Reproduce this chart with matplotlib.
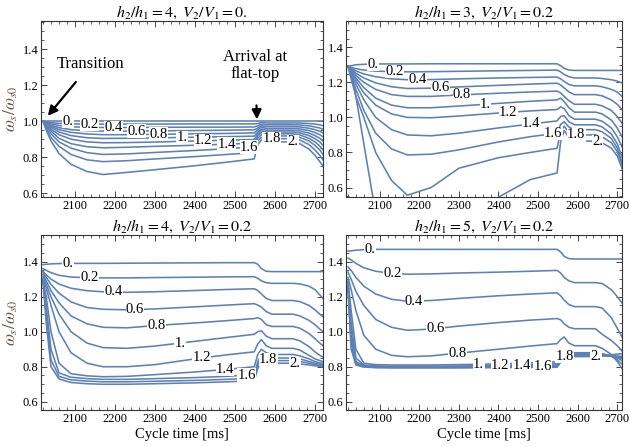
import numpy as np
import matplotlib.pyplot as plt
from matplotlib.ticker import MultipleLocator

plt.rcParams['font.family'] = ['Liberation Serif', 'DejaVu Serif']
plt.rcParams['mathtext.fontset'] = 'stix'

# common time grid [ms]
t = [2020, 2028, 2040, 2060, 2090, 2130, 2170, 2230, 2300, 2400, 2480,
     2548, 2557, 2566, 2578, 2592, 2645, 2662, 2685, 2700, 2712, 2720]

levels = ['0.', '0.2', '0.4', '0.6', '0.8', '1.', '1.2', '1.4', '1.6', '1.8', '2.']

# h2/h1 = 4, V2/V1 = 0.
tl_curves = [
    [1.0, 1.0, 1.0, 1.0, 1.0, 1.0, 1.0, 1.0, 1.0, 1.0, 1.0, 1.0, 1.0, 1.0, 1.0, 1.0, 1.0, 1.0, 1.0, 1.0, 1.0, 1.0],
    [1.0, 0.996, 0.992, 0.988, 0.985, 0.984, 0.984, 0.984, 0.984, 0.985, 0.985, 0.985, 0.987, 0.993, 0.99, 0.99, 0.99, 0.99, 0.987, 0.984, 0.98, 0.975],
    [1.0, 0.993, 0.985, 0.976, 0.969, 0.966, 0.965, 0.965, 0.966, 0.967, 0.967, 0.968, 0.974, 0.984, 0.98, 0.98, 0.98, 0.979, 0.974, 0.968, 0.962, 0.955],
    [1.0, 0.99, 0.978, 0.964, 0.953, 0.947, 0.945, 0.945, 0.946, 0.948, 0.95, 0.952, 0.962, 0.975, 0.97, 0.97, 0.97, 0.968, 0.961, 0.953, 0.944, 0.935],
    [1.0, 0.988, 0.972, 0.953, 0.938, 0.929, 0.925, 0.925, 0.927, 0.93, 0.932, 0.935, 0.952, 0.966, 0.96, 0.96, 0.96, 0.957, 0.948, 0.937, 0.925, 0.913],
    [1.0, 0.985, 0.965, 0.94, 0.92, 0.908, 0.904, 0.905, 0.907, 0.911, 0.914, 0.917, 0.94, 0.956, 0.95, 0.95, 0.95, 0.946, 0.934, 0.92, 0.905, 0.89],
    [1.0, 0.98, 0.955, 0.925, 0.9, 0.885, 0.88, 0.881, 0.884, 0.89, 0.894, 0.898, 0.93, 0.947, 0.94, 0.94, 0.94, 0.935, 0.92, 0.903, 0.885, 0.865],
    [1.0, 0.975, 0.945, 0.905, 0.875, 0.858, 0.852, 0.855, 0.86, 0.866, 0.872, 0.878, 0.92, 0.937, 0.93, 0.93, 0.93, 0.924, 0.905, 0.885, 0.862, 0.84],
    [1.0, 0.97, 0.93, 0.885, 0.85, 0.825, 0.815, 0.818, 0.826, 0.837, 0.847, 0.857, 0.905, 0.925, 0.918, 0.918, 0.918, 0.91, 0.89, 0.865, 0.84, 0.815],
    [1.0, 0.96, 0.91, 0.86, 0.815, 0.785, 0.775, 0.78, 0.79, 0.803, 0.815, 0.825, 0.89, 0.91, 0.903, 0.903, 0.903, 0.895, 0.87, 0.84, 0.81, 0.785],
    [1.0, 0.95, 0.89, 0.82, 0.76, 0.72, 0.703, 0.715, 0.73, 0.752, 0.772, 0.79, 0.87, 0.895, 0.885, 0.885, 0.885, 0.875, 0.845, 0.81, 0.775, 0.75],
]
tl_label_t = [2082, 2137, 2196, 2254, 2308, 2367, 2420, 2479, 2535, 2592, 2645]

# h2/h1 = 3, V2/V1 = 0.2
tr_curves = [
    [1.29, 1.295, 1.3, 1.303, 1.305, 1.305, 1.305, 1.306, 1.306, 1.306, 1.306, 1.306, 1.295, 1.28, 1.27, 1.268, 1.268, 1.268, 1.268, 1.268, 1.268, 1.268],
    [1.29, 1.285, 1.278, 1.27, 1.264, 1.261, 1.26, 1.261, 1.263, 1.266, 1.268, 1.27, 1.26, 1.245, 1.232, 1.225, 1.225, 1.222, 1.215, 1.207, 1.197, 1.19],
    [1.29, 1.28, 1.265, 1.248, 1.232, 1.22, 1.215, 1.216, 1.22, 1.225, 1.228, 1.23, 1.22, 1.205, 1.188, 1.18, 1.18, 1.175, 1.16, 1.145, 1.12, 1.105],
    [1.29, 1.275, 1.252, 1.225, 1.197, 1.175, 1.165, 1.167, 1.174, 1.183, 1.19, 1.195, 1.185, 1.168, 1.145, 1.13, 1.13, 1.123, 1.1, 1.075, 1.045, 1.025],
    [1.29, 1.27, 1.24, 1.2, 1.16, 1.13, 1.12, 1.12, 1.128, 1.138, 1.145, 1.15, 1.14, 1.12, 1.095, 1.075, 1.075, 1.066, 1.04, 1.005, 0.967, 0.94],
    [1.29, 1.265, 1.225, 1.17, 1.11, 1.07, 1.055, 1.055, 1.065, 1.08, 1.092, 1.1, 1.11, 1.09, 1.055, 1.03, 1.03, 1.02, 0.985, 0.94, 0.89, 0.86],
    [1.29, 1.26, 1.21, 1.14, 1.07, 1.02, 1.0, 0.998, 1.008, 1.025, 1.037, 1.045, 1.06, 1.05, 1.01, 0.99, 0.99, 0.978, 0.94, 0.89, 0.833, 0.8],
    [1.29, 1.25, 1.19, 1.1, 1.0, 0.93, 0.9, 0.895, 0.91, 0.94, 0.962, 0.98, 1.005, 1.01, 0.975, 0.958, 0.958, 0.946, 0.905, 0.85, 0.776, 0.75],
    [1.29, 1.24, 1.16, 1.04, 0.91, 0.82, 0.786, 0.79, 0.815, 0.86, 0.89, 0.91, 0.96, 0.975, 0.945, 0.93, 0.93, 0.918, 0.88, 0.825, 0.747, 0.72],
    [1.29, 1.22, 1.12, 1.0, 0.8, 0.64, 0.556, 0.6, 0.71, 0.77, 0.8, 0.824, 0.92, 0.95, 0.915, 0.9, 0.9, 0.889, 0.855, 0.805, 0.728, 0.7],
    [1.29, 1.27, 1.12, 0.85, 0.45, 0.35, 0.3, 0.3, 0.35, 0.545, 0.645, 0.683, 0.86, 0.925, 0.885, 0.865, 0.865, 0.855, 0.825, 0.78, 0.709, 0.685],
]
tr_label_t = [2083, 2137, 2196, 2254, 2308, 2367, 2425, 2483, 2538, 2596, 2650]

# h2/h1 = 4, V2/V1 = 0.2
bl_curves = [
    [1.383, 1.385, 1.387, 1.389, 1.39, 1.39, 1.39, 1.391, 1.392, 1.393, 1.394, 1.394, 1.385, 1.36, 1.345, 1.343, 1.343, 1.343, 1.343, 1.343, 1.343, 1.343],
    [1.36, 1.35, 1.337, 1.322, 1.312, 1.308, 1.307, 1.307, 1.309, 1.311, 1.313, 1.314, 1.305, 1.29, 1.28, 1.276, 1.276, 1.273, 1.26, 1.24, 1.21, 1.19],
    [1.345, 1.325, 1.3, 1.272, 1.248, 1.234, 1.228, 1.225, 1.228, 1.235, 1.241, 1.245, 1.235, 1.215, 1.19, 1.178, 1.178, 1.172, 1.15, 1.125, 1.1, 1.085],
    [1.335, 1.31, 1.27, 1.22, 1.17, 1.138, 1.128, 1.125, 1.13, 1.142, 1.152, 1.16, 1.152, 1.14, 1.115, 1.1, 1.1, 1.09, 1.065, 1.04, 1.015, 1.0],
    [1.325, 1.29, 1.235, 1.165, 1.09, 1.045, 1.025, 1.022, 1.035, 1.05, 1.063, 1.075, 1.08, 1.07, 1.04, 1.03, 1.03, 1.02, 0.99, 0.96, 0.935, 0.92],
    [1.315, 1.27, 1.2, 1.1, 1.0, 0.935, 0.909, 0.905, 0.918, 0.945, 0.967, 0.985, 1.0, 1.005, 0.975, 0.96, 0.96, 0.948, 0.915, 0.885, 0.865, 0.855],
    [1.305, 1.25, 1.15, 1.0, 0.88, 0.82, 0.8, 0.8, 0.812, 0.845, 0.868, 0.885, 0.93, 0.955, 0.92, 0.905, 0.905, 0.895, 0.865, 0.845, 0.835, 0.83],
    [1.3, 1.2, 1.0, 0.82, 0.76, 0.748, 0.743, 0.745, 0.755, 0.77, 0.785, 0.8, 0.87, 0.9, 0.88, 0.87, 0.87, 0.862, 0.845, 0.83, 0.822, 0.82],
    [1.295, 1.15, 0.9, 0.765, 0.74, 0.732, 0.728, 0.728, 0.732, 0.738, 0.745, 0.755, 0.83, 0.87, 0.86, 0.85, 0.85, 0.845, 0.83, 0.82, 0.815, 0.812],
    [1.29, 1.1, 0.84, 0.745, 0.725, 0.718, 0.714, 0.714, 0.717, 0.722, 0.728, 0.735, 0.81, 0.855, 0.845, 0.835, 0.835, 0.83, 0.82, 0.812, 0.808, 0.805],
    [1.285, 1.05, 0.8, 0.73, 0.71, 0.703, 0.7, 0.7, 0.703, 0.708, 0.714, 0.72, 0.79, 0.84, 0.83, 0.82, 0.82, 0.816, 0.81, 0.805, 0.802, 0.8],
]
bl_label_t = [2083, 2137, 2196, 2250, 2304, 2362, 2417, 2475, 2529, 2583, 2650]

# h2/h1 = 5, V2/V1 = 0.2
br_curves = [
    [1.46, 1.462, 1.465, 1.468, 1.47, 1.47, 1.47, 1.47, 1.47, 1.47, 1.47, 1.47, 1.455, 1.43, 1.417, 1.415, 1.415, 1.415, 1.415, 1.415, 1.415, 1.415],
    [1.42, 1.41, 1.39, 1.365, 1.345, 1.333, 1.328, 1.33, 1.335, 1.34, 1.345, 1.35, 1.335, 1.31, 1.29, 1.28, 1.28, 1.275, 1.24, 1.2, 1.165, 1.15],
    [1.37, 1.35, 1.31, 1.26, 1.215, 1.185, 1.174, 1.178, 1.19, 1.205, 1.215, 1.222, 1.205, 1.18, 1.155, 1.143, 1.143, 1.135, 1.08, 1.02, 0.97, 0.94],
    [1.34, 1.3, 1.23, 1.15, 1.07, 1.025, 1.008, 1.015, 1.032, 1.052, 1.066, 1.075, 1.068, 1.045, 1.025, 1.017, 1.017, 0.985, 0.95, 0.92, 0.89, 0.875],
    [1.31, 1.24, 1.12, 0.98, 0.9, 0.865, 0.857, 0.862, 0.878, 0.9, 0.918, 0.932, 0.955, 0.97, 0.935, 0.92, 0.92, 0.905, 0.87, 0.83, 0.79, 0.765],
    [1.29, 1.12, 0.9, 0.82, 0.812, 0.81, 0.81, 0.81, 0.812, 0.816, 0.822, 0.828, 0.86, 0.89, 0.885, 0.88, 0.88, 0.875, 0.86, 0.84, 0.815, 0.8],
    [1.28, 1.05, 0.85, 0.81, 0.805, 0.803, 0.803, 0.803, 0.804, 0.807, 0.812, 0.818, 0.85, 0.875, 0.875, 0.875, 0.875, 0.872, 0.862, 0.85, 0.835, 0.825],
    [1.27, 1.0, 0.83, 0.805, 0.8, 0.799, 0.799, 0.799, 0.8, 0.802, 0.806, 0.81, 0.84, 0.868, 0.87, 0.87, 0.87, 0.868, 0.862, 0.855, 0.847, 0.84],
    [1.26, 0.96, 0.82, 0.803, 0.798, 0.797, 0.797, 0.797, 0.797, 0.799, 0.802, 0.805, 0.835, 0.862, 0.866, 0.866, 0.866, 0.865, 0.862, 0.858, 0.853, 0.85],
    [1.255, 0.93, 0.815, 0.8, 0.796, 0.795, 0.795, 0.795, 0.795, 0.797, 0.799, 0.8, 0.83, 0.858, 0.862, 0.862, 0.862, 0.862, 0.862, 0.861, 0.86, 0.858],
    [1.25, 0.9, 0.81, 0.798, 0.795, 0.794, 0.794, 0.794, 0.794, 0.795, 0.796, 0.797, 0.825, 0.852, 0.858, 0.858, 0.858, 0.86, 0.868, 0.872, 0.875, 0.876],
]
br_label_t = [2075, 2133, 2187, 2242, 2296, 2350, 2404, 2458, 2512, 2567, 2646]

panels = [
    (r'$h_2/h_1 = 4,\ V_2/V_1 = 0.$', tl_curves, tl_label_t, [41, 21, 282, 176], (2015, 2720), (0.578, 1.558)),
    (r'$h_2/h_1 = 3,\ V_2/V_1 = 0.2$', tr_curves, tr_label_t, [346, 21, 276, 176], (2015, 2712), (0.546, 1.55)),
    (r'$h_2/h_1 = 4,\ V_2/V_1 = 0.2$', bl_curves, bl_label_t, [41, 235, 282, 175], (2015, 2720), (0.553, 1.552)),
    (r'$h_2/h_1 = 5,\ V_2/V_1 = 0.2$', br_curves, br_label_t, [346, 235, 276, 175], (2015, 2712), (0.553, 1.552)),
]

W, H = 630, 447
fig = plt.figure(figsize=(W / 100, H / 100), dpi=100)
line_color = '#5e81b5'

axes = []
for i, (title, curves, lab_t, box, xl, yl) in enumerate(panels):
    x0, y0, w, h = box
    ax = fig.add_axes([x0 / W, 1 - (y0 + h) / H, w / W, h / H])
    axes.append(ax)
    for k, c in enumerate(curves):
        ax.plot(t, c, color=line_color, lw=1.15, solid_joinstyle='round')
        ly = np.interp(lab_t[k], t, c)
        ax.text(lab_t[k], ly, levels[k], fontsize=10.5, ha='center', va='center',
                bbox=dict(facecolor='white', edgecolor='none', pad=0.2), zorder=5)
    ax.set_xlim(*xl)
    ax.set_ylim(*yl)
    ax.set_title(title, fontsize=11.5, pad=2)
    ax.xaxis.set_major_locator(MultipleLocator(100))
    ax.xaxis.set_minor_locator(MultipleLocator(20))
    ax.yaxis.set_major_locator(MultipleLocator(0.2))
    ax.yaxis.set_minor_locator(MultipleLocator(0.05))
    ax.yaxis.set_major_formatter(plt.FormatStrFormatter('%.1f'))
    ax.tick_params(which='both', direction='in', top=True, right=True, labelsize=9, pad=2,
                   color='#444444')
    ax.tick_params(which='major', length=4, width=0.7)
    ax.tick_params(which='minor', length=2, width=0.6)
    for s in ax.spines.values():
        s.set_linewidth(0.8)
        s.set_color('#333333')
    if i % 2 == 0:
        ax.set_ylabel(r'$\omega_s/\omega_{s0}$', fontsize=12.5, color='#6a5648', labelpad=2)
    if i >= 2:
        ax.set_xlabel('Cycle time [ms]', fontsize=10.5, labelpad=2)

# annotations in the first panel
ax = axes[0]
ax.annotate('Transition', xy=(2032, 1.03), xytext=(2140, 1.32), fontsize=12,
            ha='center', va='center',
            arrowprops=dict(arrowstyle='-|>', color='black', lw=1.6, mutation_scale=14,
                            shrinkA=7, shrinkB=0))
ax.annotate('Arrival at\nflat-top', xy=(2555, 1.01), xytext=(2550, 1.31), fontsize=12,
            ha='center', va='center', linespacing=1.05,
            arrowprops=dict(arrowstyle='-|>', color='black', lw=1.6, mutation_scale=14,
                            shrinkA=15, shrinkB=0))

fig.savefig('out.png', dpi=100)
